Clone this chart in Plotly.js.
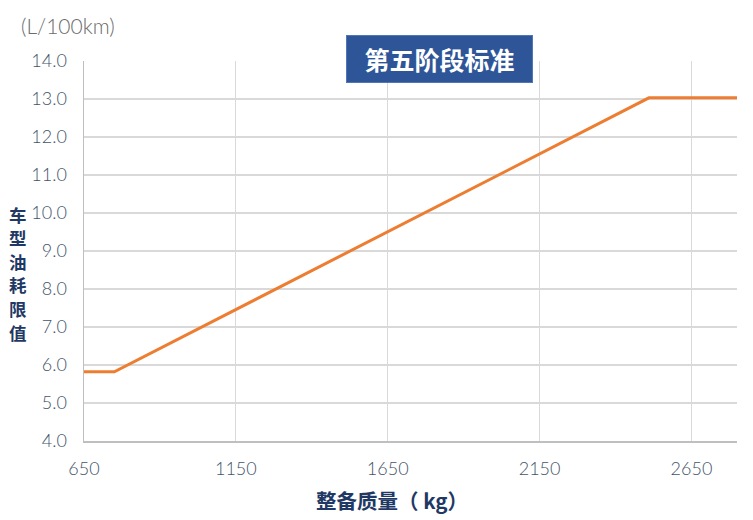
<!DOCTYPE html>
<html><head><meta charset="utf-8">
<script src="https://cdn.plot.ly/plotly-3.0.1.min.js"></script>
<style>html,body{margin:0;padding:0;background:#fff;}#c{width:753px;height:520px;}</style>
</head><body><div id="c"></div>
<script>
var curbMass = [650, 750, 2510, 2800];
var fuelLimit = [5.82, 5.82, 13.03, 13.03];
var xTicks = [650, 1150, 1650, 2150, 2650];
var yTicks = [4, 5, 6, 7, 8, 9, 10, 11, 12, 13, 14];
var titleText = '第五阶段标准';
var yTitleChars = ['车','型','油','耗','限','值'];
var xTitleText = '整备质量（ kg）';
var unitText = '(L/100km)';

var tickFont = {family: 'Lato, "Noto Sans CJK SC", sans-serif', size: 18, weight: 300, color: '#44546A'};
var annotations = [
  {text: '<b>' + titleText + '</b>', xref: 'paper', yref: 'paper', x: 0.544, y: 1.005, yanchor: 'middle', xanchor: 'center',
   showarrow: false, font: {family: '"Noto Sans CJK SC", sans-serif', size: 25, color: '#fff'},
   bgcolor: '#2E5597', bordercolor: '#4F76B8', borderwidth: 1, borderpad: 5, width: 175, height: 36},
  {text: unitText, xref: 'paper', yref: 'paper', x: -0.099, xanchor: 'left', y: 1.0, yanchor: 'bottom', yshift: 21,
   showarrow: false, font: {family: 'Lato, "Noto Sans", sans-serif', size: 21, weight: 300, color: '#6B6B6B'}},
  {text: '<b>' + xTitleText + '</b>', xref: 'paper', yref: 'paper', x: 0.472, xanchor: 'center',
   y: 0, yanchor: 'middle', yshift: -59, showarrow: false,
   font: {family: '"Noto Sans CJK SC", sans-serif', size: 20.5, color: '#1F3864'}}
];
yTitleChars.forEach(function(ch, i){
  annotations.push({text: '<b>' + ch + '</b>', xref: 'paper', yref: 'paper', x: 0, xanchor: 'center', xshift: -66,
    y: 1, yanchor: 'middle', yshift: -(214 + i * 23.6 - 61), showarrow: false,
    font: {family: '"Noto Sans CJK SC", sans-serif', size: 17.5, color: '#1F3864'}});
});
var layout = {
  width: 753, height: 520,
  margin: {l: 84, r: 16, t: 61, b: 79},
  paper_bgcolor: '#fff', plot_bgcolor: '#fff',
  showlegend: false,
  xaxis: {range: [650, 2800], tickvals: xTicks, ticktext: xTicks.map(String),
    showgrid: true, gridcolor: '#D9D9D9', gridwidth: 1.2,
    showline: true, linecolor: '#BFBFBF', linewidth: 1.5,
    zeroline: false, ticks: '', tickfont: tickFont, ticklabelstandoff: 11},
  yaxis: {range: [4, 14], tickvals: yTicks, ticktext: yTicks.map(function(v){return v.toFixed(1);}),
    showgrid: true, gridcolor: '#D9D9D9', gridwidth: 1.2,
    showline: true, linecolor: '#BFBFBF', linewidth: 1.5,
    zeroline: false, ticks: '', tickfont: tickFont, ticklabelstandoff: 12},
  annotations: annotations
};
var data = [{x: curbMass, y: fuelLimit, type: 'scatter', mode: 'lines',
  line: {color: '#ED7D31', width: 3}, cliponaxis: true, hoverinfo: 'none'}];
Plotly.newPlot('c', data, layout, {displayModeBar: false, staticPlot: true});
</script></body></html>
